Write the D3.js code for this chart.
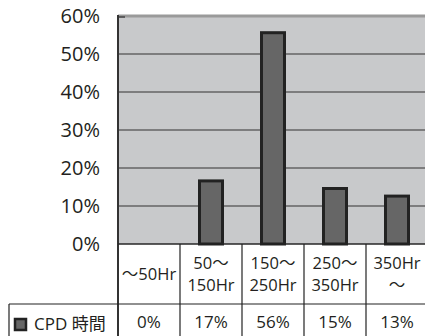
<!DOCTYPE html>
<html><head><meta charset="utf-8">
<script src="https://cdn.jsdelivr.net/npm/d3@7"></script>
<style>body{margin:0;background:#fff}svg{display:block}</style>
</head><body>
<svg id="c" width="425" height="336"></svg>
<script>
const categories = ["c1","c2","c3","c4","c5"];
const categoryLabels = [["～50Hr"],["50～","150Hr"],["150～","250Hr"],["250～","350Hr"],["350Hr","～"]];
const values = [0, 17, 56, 15, 13];
const valueLabels = ["0%","17%","56%","15%","13%"];
const yTicks = [0,10,20,30,40,50,60];
const seriesName = "CPD 時間";

const svg = d3.select("#c");
const font = "'Open Sans','Noto Sans CJK JP',sans-serif";
const x = d3.scaleBand().domain(categories).range([118, 428]);
const y = d3.scaleLinear().domain([0, 60]).range([244, 16]);

// plot background
svg.append("rect").attr("x", 118).attr("y", y(60)).attr("width", 425-118).attr("height", y(0)-y(60)).attr("fill", "#c8c9cb");
// gridlines
svg.append("g").selectAll("line").data(yTicks).join("line")
  .attr("x1", 118).attr("x2", 425).attr("y1", d=>y(d)).attr("y2", d=>y(d))
  .attr("stroke", "#333").attr("stroke-width", 1.2);
// top border
svg.append("line").attr("x1",118).attr("x2",425).attr("y1",y(60)).attr("y2",y(60)).attr("stroke","#9a9a9a").attr("stroke-width",3);
svg.append("line").attr("x1",118).attr("x2",125).attr("y1",y(60)+1).attr("y2",y(60)+1).attr("stroke","#444").attr("stroke-width",1.5);
// bars
const bw = 23;
svg.append("g").selectAll("rect").data(values).join("rect")
  .attr("x", (d,i)=>x(categories[i]) + x.bandwidth()/2 - bw/2)
  .attr("width", bw)
  .attr("y", d=>y(d)+1.5)
  .attr("height", d=>Math.max(0, y(0)-y(d)-1.5))
  .attr("fill", "#666")
  .attr("stroke", "#222").attr("stroke-width", 3)
  .attr("display", d=> d>0 ? null : "none");
// left axis line
svg.append("line").attr("x1",118).attr("x2",118).attr("y1",y(60)-1).attr("y2",336).attr("stroke","#333").attr("stroke-width",2);
// y tick labels
svg.append("g").selectAll("text").data(yTicks).join("text")
  .attr("x", 100).attr("y", d=>y(d)).attr("dy","0.36em")
  .attr("text-anchor","end").attr("font-family",font).attr("font-size",20).attr("fill","#231f20")
  .text(d=>d+"%");

// table
const tbl = svg.append("g").attr("stroke","#222").attr("stroke-width",1.2);
tbl.append("line").attr("x1",118).attr("x2",425).attr("y1",244).attr("y2",244);
tbl.append("line").attr("x1",9).attr("x2",425).attr("y1",304).attr("y2",304);
tbl.append("line").attr("x1",9).attr("x2",9).attr("y1",304).attr("y2",336);
categories.slice(1).forEach(c=>{
  tbl.append("line").attr("x1",x(c)).attr("x2",x(c)).attr("y1",244).attr("y2",336);
});
// category labels
categories.forEach((c,i)=>{
  const lines = categoryLabels[i];
  const cx = x(c) + x.bandwidth()/2;
  const startY = lines.length === 1 ? 274 : 263;
  lines.forEach((t,j)=>{
    svg.append("text").attr("x",cx).attr("y",startY + j*22).attr("dy","0.36em")
      .attr("text-anchor","middle").attr("font-family",font).attr("font-size",16.5).attr("fill","#231f20")
      .text(t);
  });
  svg.append("text").attr("x",cx).attr("y",322).attr("dy","0.36em")
    .attr("text-anchor","middle").attr("font-family",font).attr("font-size",17).attr("fill","#231f20")
    .text(valueLabels[i]);
});
// legend
svg.append("rect").attr("x",15).attr("y",319).attr("width",11).attr("height",11)
  .attr("fill","#666").attr("stroke","#222").attr("stroke-width",2.5);
svg.append("text").attr("x",34).attr("y",324).attr("dy","0.36em")
  .attr("font-family",font).attr("font-size",17).attr("fill","#231f20").text(seriesName);
</script>
</body></html>
